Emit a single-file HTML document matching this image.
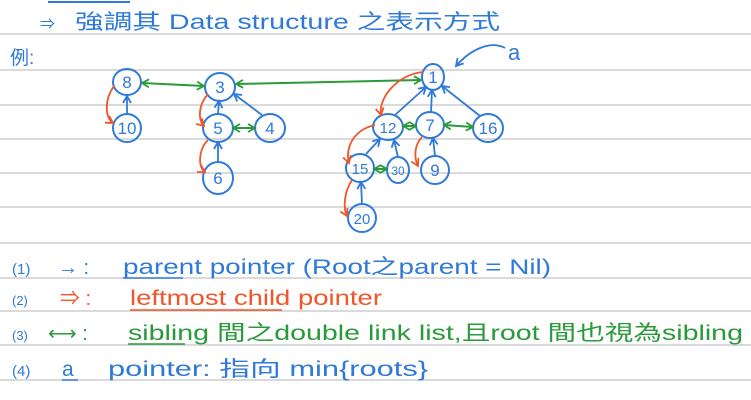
<!DOCTYPE html>
<html><head><meta charset="utf-8"><style>
html,body{margin:0;padding:0;background:#fff;}
svg{display:block;}
text{font-family:"Liberation Sans","Noto Sans CJK TC",sans-serif;}
</style></head><body>
<svg width="751" height="400" viewBox="0 0 751 400" xmlns="http://www.w3.org/2000/svg">
<defs>
<marker id="ab" markerWidth="10" markerHeight="10" refX="8" refY="5" orient="auto" markerUnits="userSpaceOnUse"><path d="M1,1 L8,5 L1,9" fill="none" stroke="#2f7ad8" stroke-width="1.8"/></marker>
<marker id="ao" markerWidth="10" markerHeight="10" refX="8" refY="5" orient="auto" markerUnits="userSpaceOnUse"><path d="M1,1 L8,5 L1,9" fill="none" stroke="#f0562a" stroke-width="1.8"/></marker>
<marker id="ag" markerWidth="10" markerHeight="10" refX="8" refY="5" orient="auto-start-reverse" markerUnits="userSpaceOnUse"><path d="M1,1 L8,5 L1,9" fill="none" stroke="#2a9a3a" stroke-width="1.8"/></marker>
</defs>
<g stroke="#c4c4c4" stroke-width="1.2">
<line x1="0" y1="34" x2="751" y2="34"/><line x1="0" y1="70" x2="751" y2="70"/>
<line x1="0" y1="105" x2="751" y2="105"/><line x1="0" y1="139" x2="751" y2="139"/>
<line x1="0" y1="173" x2="751" y2="173"/><line x1="0" y1="207" x2="751" y2="207"/>
<line x1="0" y1="243" x2="751" y2="243"/><line x1="0" y1="278" x2="751" y2="278"/>
<line x1="0" y1="311" x2="751" y2="311"/><line x1="0" y1="345" x2="751" y2="345"/>
<line x1="0" y1="380" x2="751" y2="380"/>
</g>
<line x1="48" y1="2" x2="130" y2="2" stroke="#2f7ad8" stroke-width="2"/>
<text x="40" y="29" font-size="15" fill="#2f7ad8">⇒</text>
<text x="75" y="29" font-size="21" fill="#2f7ad8" textLength="425" lengthAdjust="spacingAndGlyphs">強調其 Data structure 之表示方式</text>
<text x="10" y="64" font-size="19" fill="#2f7ad8">例:</text>
<text x="508" y="60" font-size="22" fill="#2f7ad8">a</text>
<path d="M505,48 C490,40 470,50 456,66" fill="none" stroke="#2f7ad8" stroke-width="1.8" marker-end="url(#ab)"/>

<g fill="none" stroke="#2f7ad8" stroke-width="2">
<ellipse cx="127" cy="82" rx="14" ry="13"/><ellipse cx="220" cy="87" rx="15" ry="14"/>
<ellipse cx="433" cy="77" rx="11" ry="13"/><ellipse cx="127" cy="128" rx="14" ry="14"/>
<ellipse cx="218" cy="128" rx="15" ry="14"/><ellipse cx="270" cy="128" rx="15" ry="14"/>
<ellipse cx="218" cy="178" rx="15" ry="16"/><ellipse cx="388" cy="127" rx="15" ry="13"/>
<ellipse cx="430" cy="125" rx="14" ry="13"/><ellipse cx="488" cy="128" rx="15" ry="14"/>
<ellipse cx="360" cy="168" rx="14" ry="14"/><ellipse cx="398" cy="170" rx="11" ry="13"/>
<ellipse cx="435" cy="170" rx="14" ry="14"/><ellipse cx="362" cy="218" rx="14" ry="14"/>
</g>
<g font-size="17" fill="#2f7ad8" text-anchor="middle">
<text x="127" y="88">8</text><text x="220" y="93">3</text><text x="433" y="83">1</text>
<text x="127" y="134">10</text><text x="218" y="134">5</text><text x="270" y="134">4</text>
<text x="218" y="184">6</text><text x="388" y="133" font-size="15">12</text><text x="430" y="131">7</text>
<text x="488" y="134">16</text><text x="360" y="174" font-size="15">15</text><text x="398" y="175" font-size="12">30</text>
<text x="435" y="176">9</text><text x="362" y="224" font-size="15">20</text>
</g>
<g stroke="#2f7ad8" stroke-width="1.8" marker-end="url(#ab)">
<line x1="127" y1="114" x2="127" y2="96"/><line x1="218" y1="114" x2="219" y2="101"/>
<line x1="262" y1="115" x2="234" y2="94"/><line x1="218" y1="162" x2="218" y2="142"/>
<line x1="395" y1="115" x2="426" y2="87"/><line x1="431" y1="112" x2="432" y2="90"/>
<line x1="480" y1="116" x2="442" y2="86"/><line x1="366" y1="154" x2="380" y2="139"/>
<line x1="398" y1="157" x2="394" y2="140"/><line x1="435" y1="156" x2="433" y2="138"/>
<line x1="362" y1="204" x2="361" y2="182"/>
</g>
<g stroke="#2a9a3a" stroke-width="2" marker-start="url(#ag)" marker-end="url(#ag)">
<line x1="142" y1="83" x2="204" y2="86"/><line x1="236" y1="84" x2="421" y2="80"/>
<line x1="233" y1="128" x2="255" y2="128"/><line x1="403" y1="126" x2="416" y2="126"/>
<line x1="444" y1="125" x2="473" y2="127"/><line x1="374" y1="169" x2="387" y2="169"/>
</g>
<g fill="none" stroke="#f0562a" stroke-width="1.8" marker-end="url(#ao)">
<path d="M114,86 C104,100 105,118 113,123"/>
<path d="M208,94 C198,105 198,120 204,126"/>
<path d="M208,140 C198,150 198,168 205,172"/>
<path d="M423,72 C395,75 378,100 381,115"/>
<path d="M375,125 C352,130 345,150 349,163"/>
<path d="M422,137 C414,145 414,158 418,166"/>
<path d="M352,180 C344,192 343,208 347,216"/>
</g>

<text x="12" y="274" font-size="15" fill="#2f7ad8">(1)</text>
<text x="58" y="274" font-size="20" fill="#2f7ad8">→ :</text>
<text x="123" y="274" font-size="21" fill="#2f7ad8" textLength="428" lengthAdjust="spacingAndGlyphs">parent pointer (Root之parent = Nil)</text>
<line x1="123" y1="278" x2="183" y2="278" stroke="#2f7ad8" stroke-width="1.5"/>
<text x="12" y="305" font-size="13" fill="#2f7ad8">(2)</text>
<text x="60" y="305" font-size="20" fill="#f0562a">⇒ :</text>
<text x="130" y="305" font-size="21" fill="#f0562a" textLength="252" lengthAdjust="spacingAndGlyphs">leftmost child pointer</text>
<line x1="130" y1="310" x2="282" y2="310" stroke="#f0562a" stroke-width="1.5"/>
<text x="12" y="340" font-size="13" fill="#2f7ad8">(3)</text>
<text x="48" y="340" font-size="20" fill="#2a9a3a">⟷ :</text>
<text x="128" y="340" font-size="21" fill="#2a9a3a" textLength="615" lengthAdjust="spacingAndGlyphs">sibling 間之double link list,且root 間也視為sibling</text>
<line x1="128" y1="344" x2="185" y2="344" stroke="#2a9a3a" stroke-width="1.5"/>
<text x="12" y="376" font-size="15" fill="#2f7ad8">(4)</text>
<text x="62" y="376" font-size="21" fill="#2f7ad8">a</text>
<line x1="62" y1="380" x2="78" y2="380" stroke="#2f7ad8" stroke-width="1.5"/>
<text x="108" y="376" font-size="21" fill="#2f7ad8" textLength="320" lengthAdjust="spacingAndGlyphs">pointer: 指向 min{roots}</text>
</svg>
</body></html>
